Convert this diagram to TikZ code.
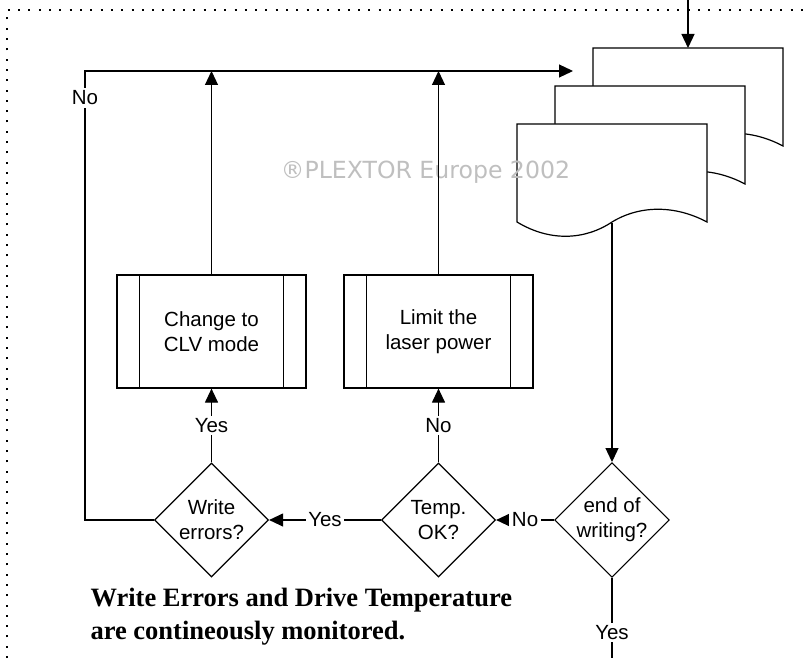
\documentclass[tikz,border=0pt]{standalone}
\usepackage{fontspec}
\setmainfont{Liberation Sans}
\newfontfamily\notefont{Liberation Serif}
\newfontfamily\markfont{DejaVu Sans}
\usetikzlibrary{shapes.geometric, arrows.meta}

\tikzset{
  flow/.style={line width=1.2pt},
  arr/.style={flow, -{Triangle[length=14pt,width=13pt]}},
  border/.style={line width=2pt, dash pattern=on 2pt off 8.3pt},
  decision/.style={draw, flow, diamond, aspect=1, minimum width=114pt, minimum height=114pt, inner sep=0pt, align=center},
  predef/.style={draw, flow, rectangle, minimum width=189pt, minimum height=113pt, align=center,
    path picture={\draw[flow] ([xshift=22.5pt]path picture bounding box.north west) -- ([xshift=22.5pt]path picture bounding box.south west)
      ([xshift=-22.5pt]path picture bounding box.north east) -- ([xshift=-22.5pt]path picture bounding box.south east);}},
  lbl/.style={fill=white, inner sep=2.5pt},
  docpage/.style={draw, flow, fill=white}
}

\begin{document}
\begin{tikzpicture}[x=1pt, y=-1pt, font=\fontsize{20.5}{25}\selectfont]
\useasboundingbox (0,0) rectangle (805,658);

\draw[border] (7,658) -- (7,10) -- (805,10);

% stack of written pages
\foreach \s in {2,1,0}
  \draw[docpage, shift={(38*\s,-38*\s)}] (517,124) -- (707,124) -- (707,222)
    .. controls (675,205) and (640,205) .. (612,222)
    .. controls (585,240) and (550,242) .. (517,222) -- cycle;

\node[text=black!25, font=\markfont\fontsize{23.6}{28}\selectfont] (mark) at (425.5,172) {®PLEXTOR Europe 2002};

\coordinate (feed) at (688,0);
\coordinate (doctop) at (688,48);
\coordinate (docout) at (612,223);
\coordinate (loopcorner) at (85,71);
\coordinate (loopend) at (573,71);
\coordinate (exit) at (612,658);

\node[predef] (clv) at (211.5,331.5) {Change to\\CLV mode};
\node[predef] (limit) at (438.5,331.5) {Limit the\\laser power};
\node[decision] (werr) at (211.5,520) {Write\\errors?};
\node[decision] (temp) at (438.5,520) {Temp.\\OK?};
\node[decision] (endw) at (612,520) {end of\\writing?};

\node[font=\notefont\bfseries\fontsize{26.5}{33}\selectfont, align=left, anchor=west] (note) at (87,617)
  {Write Errors and Drive Temperature\\are contineously monitored.};

\draw[arr] (feed) -- (doctop);
\draw[arr] (docout) -- (endw.north);
\draw[arr] (endw.west) -- node[lbl] {No} (temp.east);
\draw[arr] (temp.west) -- node[lbl] {Yes} (werr.east);
\draw[arr] (temp.north) -- node[lbl] {No} (limit.south);
\draw[arr] (werr.north) -- node[lbl] {Yes} (clv.south);
\draw[arr] (clv.north) -- (clv.north |- loopcorner);
\draw[arr] (limit.north) -- (limit.north |- loopcorner);
\draw[arr] (werr.west) -| node[lbl, pos=0.97] {No} (loopcorner) -- (loopend);
\draw[flow] (endw.south) -- node[lbl, pos=0.68] {Yes} (exit);

\end{tikzpicture}
\end{document}
